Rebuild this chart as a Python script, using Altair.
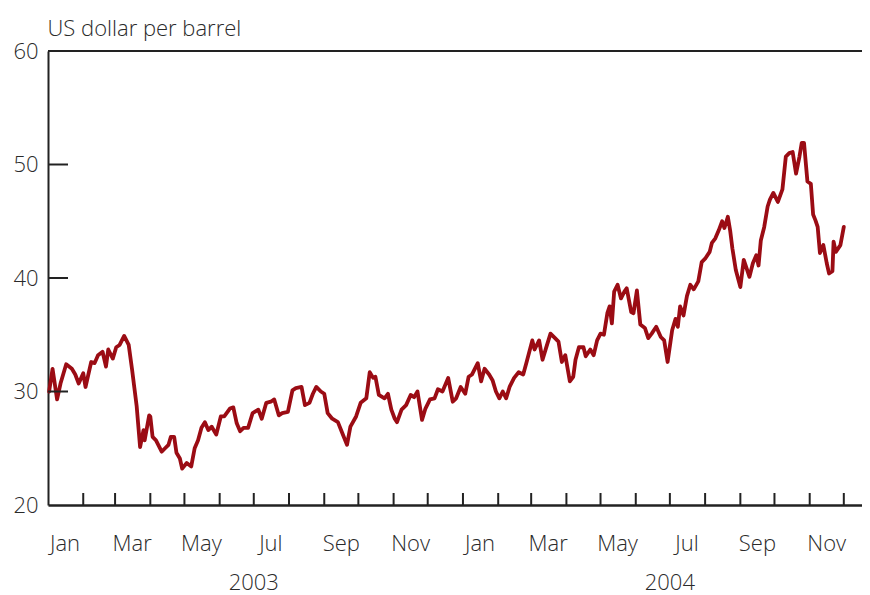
import altair as alt
import pandas as pd

# ---- data (Brent-type crude price, US$ per barrel) ----
dates = [
    "2003-01-02", "2003-01-05", "2003-01-09", "2003-01-12", "2003-01-17", "2003-01-22",
    "2003-01-25", "2003-01-28", "2003-02-01", "2003-02-03", "2003-02-08", "2003-02-11",
    "2003-02-14", "2003-02-18", "2003-02-21", "2003-02-23", "2003-02-27", "2003-03-02",
    "2003-03-05", "2003-03-09", "2003-03-13", "2003-03-16", "2003-03-20", "2003-03-23",
    "2003-03-26", "2003-03-27", "2003-03-31", "2003-04-01", "2003-04-03", "2003-04-06",
    "2003-04-08", "2003-04-11", "2003-04-14", "2003-04-17", "2003-04-19", "2003-04-22",
    "2003-04-24", "2003-04-27", "2003-04-29", "2003-05-03", "2003-05-07", "2003-05-10",
    "2003-05-13", "2003-05-16", "2003-05-19", "2003-05-22", "2003-05-25", "2003-05-29",
    "2003-06-02", "2003-06-05", "2003-06-10", "2003-06-13", "2003-06-16", "2003-06-19",
    "2003-06-22", "2003-06-26", "2003-06-30", "2003-07-05", "2003-07-08", "2003-07-12",
    "2003-07-16", "2003-07-19", "2003-07-23", "2003-07-26", "2003-07-31", "2003-08-04",
    "2003-08-07", "2003-08-12", "2003-08-15", "2003-08-19", "2003-08-22", "2003-08-25",
    "2003-08-29", "2003-09-01", "2003-09-04", "2003-09-08", "2003-09-13", "2003-09-17",
    "2003-09-21", "2003-09-24", "2003-09-29", "2003-10-03", "2003-10-08", "2003-10-11",
    "2003-10-14", "2003-10-16", "2003-10-19", "2003-10-24", "2003-10-27", "2003-10-30",
    "2003-11-02", "2003-11-04", "2003-11-08", "2003-11-12", "2003-11-16", "2003-11-19",
    "2003-11-22", "2003-11-26", "2003-11-29", "2003-12-03", "2003-12-07", "2003-12-10",
    "2003-12-14", "2003-12-19", "2003-12-23", "2003-12-26", "2003-12-30", "2004-01-03",
    "2004-01-06", "2004-01-09", "2004-01-14", "2004-01-17", "2004-01-20", "2004-01-24",
    "2004-01-27", "2004-01-30", "2004-02-02", "2004-02-05", "2004-02-08", "2004-02-11",
    "2004-02-15", "2004-02-19", "2004-02-23", "2004-02-26", "2004-03-02", "2004-03-04",
    "2004-03-08", "2004-03-11", "2004-03-14", "2004-03-18", "2004-03-22", "2004-03-25",
    "2004-03-28", "2004-03-31", "2004-04-04", "2004-04-07", "2004-04-09", "2004-04-12",
    "2004-04-16", "2004-04-18", "2004-04-22", "2004-04-25", "2004-04-28", "2004-05-01",
    "2004-05-04", "2004-05-07", "2004-05-09", "2004-05-11", "2004-05-13", "2004-05-16",
    "2004-05-19", "2004-05-22", "2004-05-24", "2004-05-28", "2004-05-30", "2004-06-02",
    "2004-06-05", "2004-06-09", "2004-06-12", "2004-06-15", "2004-06-19", "2004-06-23",
    "2004-06-26", "2004-06-29", "2004-07-03", "2004-07-06", "2004-07-08", "2004-07-10",
    "2004-07-13", "2004-07-16", "2004-07-19", "2004-07-22", "2004-07-26", "2004-07-29",
    "2004-08-01", "2004-08-05", "2004-08-07", "2004-08-10", "2004-08-13", "2004-08-16",
    "2004-08-18", "2004-08-21", "2004-08-23", "2004-08-25", "2004-08-28", "2004-09-01",
    "2004-09-04", "2004-09-06", "2004-09-09", "2004-09-12", "2004-09-15", "2004-09-17",
    "2004-09-19", "2004-09-22", "2004-09-25", "2004-09-27", "2004-09-30", "2004-10-04",
    "2004-10-08", "2004-10-11", "2004-10-14", "2004-10-17", "2004-10-20", "2004-10-23",
    "2004-10-25", "2004-10-27", "2004-10-30", "2004-11-02", "2004-11-04", "2004-11-06",
    "2004-11-08", "2004-11-10", "2004-11-13", "2004-11-16", "2004-11-18", "2004-11-21",
    "2004-11-22", "2004-11-24", "2004-11-28", "2004-12-01",
]
prices = [
    30.0, 32.0, 29.3, 30.7, 32.4, 32.0,
    31.5, 30.7, 31.6, 30.4, 32.6, 32.5,
    33.2, 33.5, 32.2, 33.7, 32.9, 33.9,
    34.1, 34.9, 34.1, 31.9, 28.7, 25.1,
    26.6, 25.7, 27.9, 27.8, 26.0, 25.7,
    25.3, 24.7, 25.0, 25.3, 26.0, 26.0,
    24.6, 24.1, 23.2, 23.7, 23.4, 25.0,
    25.7, 26.8, 27.3, 26.6, 26.9, 26.2,
    27.8, 27.8, 28.5, 28.6, 27.2, 26.5,
    26.8, 26.8, 28.1, 28.4, 27.6, 29.0,
    29.1, 29.3, 27.9, 28.1, 28.2, 30.1,
    30.3, 30.4, 28.8, 29.0, 29.8, 30.4,
    30.0, 29.8, 28.1, 27.6, 27.3, 26.3,
    25.3, 26.9, 27.8, 29.0, 29.4, 31.7,
    31.2, 31.3, 29.7, 29.4, 29.8, 28.4,
    27.6, 27.3, 28.4, 28.8, 29.7, 29.5,
    30.0, 27.5, 28.5, 29.3, 29.4, 30.2,
    30.0, 31.2, 29.1, 29.4, 30.4, 29.8,
    31.3, 31.5, 32.5, 30.9, 32.0, 31.5,
    31.0, 30.0, 29.4, 30.0, 29.4, 30.4,
    31.2, 31.7, 31.5, 32.6, 34.5, 33.7,
    34.5, 32.8, 33.8, 35.1, 34.7, 34.4,
    32.6, 33.2, 30.9, 31.3, 32.8, 33.9,
    33.9, 33.1, 33.7, 33.2, 34.5, 35.1,
    35.0, 36.9, 37.5, 36.0, 38.8, 39.4,
    38.2, 38.8, 39.1, 37.0, 36.9, 38.9,
    35.9, 35.6, 34.7, 35.1, 35.7, 34.8,
    34.5, 32.6, 35.4, 36.4, 35.7, 37.5,
    36.7, 38.4, 39.4, 39.0, 39.7, 41.4,
    41.7, 42.3, 43.1, 43.5, 44.2, 45.0,
    44.4, 45.4, 44.2, 42.6, 40.7, 39.2,
    41.6, 41.0, 40.1, 41.3, 42.0, 41.1,
    43.3, 44.5, 46.3, 46.9, 47.5, 46.7,
    47.8, 50.7, 51.0, 51.1, 49.2, 50.7,
    51.9, 51.9, 48.5, 48.3, 45.6, 45.1,
    44.5, 42.2, 42.9, 41.3, 40.4, 40.6,
    43.2, 42.3, 42.9, 44.5,
]

tick_months = [
    "2003-02-01", "2003-03-01", "2003-04-01", "2003-05-01", "2003-06-01", "2003-07-01",
    "2003-08-01", "2003-09-01", "2003-10-01", "2003-11-01", "2003-12-01", "2004-01-01",
    "2004-02-01", "2004-03-01", "2004-04-01", "2004-05-01", "2004-06-01", "2004-07-01",
    "2004-08-01", "2004-09-01", "2004-10-01", "2004-11-01", "2004-12-01",
]
month_label_dates = [
    "2003-01-16", "2003-03-16", "2003-05-16", "2003-07-16", "2003-09-16", "2003-11-16",
    "2004-01-16", "2004-03-16", "2004-05-16", "2004-07-16", "2004-09-16", "2004-11-16",
]
month_labels = ["Jan", "Mar", "May", "Jul", "Sep", "Nov"] * 2
year_label_dates = ["2003-07-01", "2004-07-01"]
year_labels = ["2003", "2004"]
y_values = [20, 30, 40, 50, 60]
y_inner_ticks = [30, 40, 50]

# ---- styling ----
W, H = 814, 454
FONT = "Open Sans"
FS = 22
TXT = "#2a2a2a"
AX = "#222222"
LINE = "#9b0c14"

xscale = alt.Scale(
    type="utc",
    nice=False,
    domain=[alt.DateTime(year=2003, month=1, date=1, utc=True),
            alt.DateTime(year=2004, month=12, date=17, utc=True)],
)
yscale = alt.Scale(domain=[20, 60], nice=False, zero=False)

df = pd.DataFrame({"date": dates, "price": prices})

line = alt.Chart(df).mark_line(
    color=LINE, strokeWidth=3.8, strokeJoin="round", strokeCap="round"
).encode(
    x=alt.X("date:T", scale=xscale,
            axis=alt.Axis(labels=False, ticks=False, grid=False, title=None,
                          domainColor=AX, domainWidth=2.5)),
    y=alt.Y("price:Q", scale=yscale,
            axis=alt.Axis(values=y_values, ticks=False, grid=False,
                          domainColor=AX, domainWidth=2,
                          labelFont=FONT, labelFontSize=FS, labelColor=TXT,
                          labelFontWeight=300,
                          labelPadding=10,
                          title="US dollar per barrel", titleAngle=0,
                          titleAlign="left", titleBaseline="alphabetic",
                          titleX=-1, titleY=-16, titleFont=FONT,
                          titleFontSize=FS, titleFontWeight=300,
                          titleColor=TXT)),
)

top_rule = alt.Chart(pd.DataFrame({"v": [60]})).mark_rule(
    color=AX, strokeWidth=2
).encode(y=alt.Y("v:Q", scale=yscale))

x_ticks = alt.Chart(pd.DataFrame({"d": tick_months})).mark_rule(
    color=AX, strokeWidth=2
).encode(
    x=alt.X("d:T", scale=xscale),
    y=alt.value(H),
    y2=alt.value(H - 12),
)

y_ticks = alt.Chart(pd.DataFrame({"v": y_inner_ticks})).mark_rule(
    color=AX, strokeWidth=2
).encode(
    y=alt.Y("v:Q", scale=yscale),
    x=alt.value(0),
    x2=alt.value(20),
)

month_text = alt.Chart(pd.DataFrame({"d": month_label_dates, "t": month_labels})).mark_text(
    font=FONT, fontSize=FS, fontWeight=300, color=TXT, align="center", baseline="alphabetic"
).encode(
    x=alt.X("d:T", scale=xscale),
    y=alt.value(H + 46),
    text="t:N",
)

year_text = alt.Chart(pd.DataFrame({"d": year_label_dates, "t": year_labels})).mark_text(
    font=FONT, fontSize=FS, fontWeight=300, color=TXT, align="center", baseline="alphabetic"
).encode(
    x=alt.X("d:T", scale=xscale),
    y=alt.value(H + 85),
    text="t:N",
)

chart = alt.layer(
    line, top_rule, x_ticks, y_ticks, month_text, year_text
).properties(
    width=W,
    height=H,
    autosize=alt.AutoSizeParams(type="none"),
    padding={"left": 40, "top": 43, "right": 0, "bottom": 92},
    background="white",
).configure_view(stroke=None)

chart.save("out.html", embed_options={"renderer": "svg", "actions": False})
